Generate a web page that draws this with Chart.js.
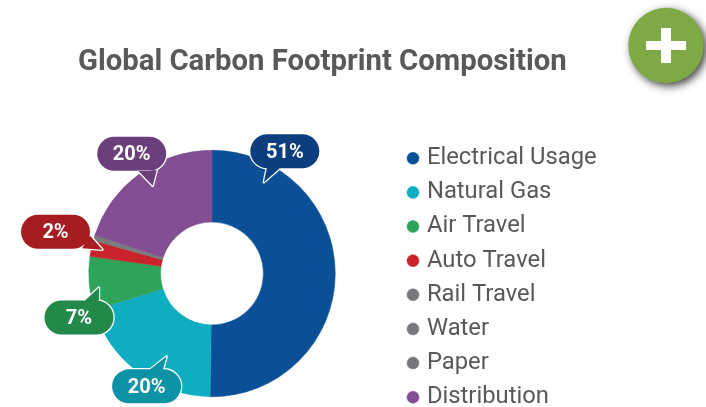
<!DOCTYPE html>
<html>
<head>
<meta charset="utf-8">
<style>html,body{margin:0;padding:0;background:#fff}#wrap{width:706px;height:407px}</style>
<script src="https://cdn.jsdelivr.net/npm/chart.js@4"></script>
</head>
<body>
<div id="wrap"><canvas id="c" width="706" height="407"></canvas></div>
<script>
const titleText = 'Global Carbon Footprint Composition';
const categories = ['Electrical Usage','Natural Gas','Air Travel','Auto Travel','Rail Travel','Water','Paper','Distribution'];
const values = [50.3,20,7,2.1,0.3,0.2,0.2,20];
const sliceColors = ['#0b5096','#10adc1','#2ea35a','#c9242b','#77777b','#77777b','#77777b','#834f92'];
const calloutText = ['51%','20%','7%','2%',null,null,null,'20%'];
const calloutColors = ['#0d3f80','#0e92a5','#23894a','#a61c20',null,null,null,'#6b3f7b'];

// Callout geometry, relative to the centre point of the arc it belongs to.
const calloutShape = {
  0:{pill:[-14.5,-123],tip:[-35.5,-92],base:[[-18,17],[-5,17]]},
  1:{pill:[-13,43],tip:[7,13],base:[[3.5,-17],[16.5,-17]]},
  2:{pill:[-46,37],tip:[-26,7],base:[[5,-16],[20,-17]]},
  3:{pill:[-71,-24],tip:[-24,-6],base:[[34.5,4],[26.5,16.5]]},
  7:{pill:[-29,-49],tip:[-8,-17],base:[[6,16.5],[25,16.5]]}
};

const placement = {
  id:'placement',
  afterLayout(chart){
    Object.assign(chart.chartArea,{left:88.5,right:335.5,top:150,bottom:397,width:247,height:247});
    const t = chart.titleBlock;
    t.left = 78; t.right = 640; t.top = 39.6; t.bottom = 85;
    const l = chart.legend;
    l.maxHeight = 600; l.maxWidth = 300;
    l.fit();
    l.left = 400.66; l.right = 700; l.top = 136; l.bottom = 600;
  }
};

const callouts = {
  id:'callouts',
  afterDatasetsDraw(chart){
    const ctx = chart.ctx, arcs = chart.getDatasetMeta(0).data;
    ctx.save();
    // Plus badge
    ctx.save();
    ctx.shadowColor='rgba(0,0,0,0.75)';ctx.shadowBlur=8;ctx.shadowOffsetX=3;ctx.shadowOffsetY=3;
    ctx.fillStyle='#7fa945';
    ctx.beginPath();ctx.arc(666,45.5,37.7,0,Math.PI*2);ctx.fill();
    ctx.restore();
    ctx.fillStyle='#fff';
    ctx.fillRect(646,41,40,9);
    ctx.fillRect(661,28,10,35);
    // Callouts
    Object.keys(calloutShape).forEach(k=>{
      const s = calloutShape[k], a = arcs[k].getCenterPoint();
      const cx = a.x+s.pill[0], cy = a.y+s.pill[1], w = 69, h = 34;
      const path = new Path2D();
      path.roundRect(cx-w/2,cy-h/2,w,h,h/2);
      path.moveTo(cx+s.base[0][0],cy+s.base[0][1]);
      path.lineTo(a.x+s.tip[0],a.y+s.tip[1]);
      path.lineTo(cx+s.base[1][0],cy+s.base[1][1]);
      path.closePath();
      ctx.strokeStyle='#fff';ctx.lineWidth=2.5;ctx.lineJoin='round';
      ctx.stroke(path);
      ctx.fillStyle=calloutColors[k];
      ctx.fill(path,'nonzero');
      ctx.fillStyle='#fff';
      ctx.font='bold 20px Roboto';
      ctx.textAlign='center';ctx.textBaseline='middle';
      ctx.fillText(calloutText[k],cx,cy+1.5);
    });
    ctx.restore();
  }
};

new Chart(document.getElementById('c'),{
  type:'doughnut',
  data:{labels:categories,datasets:[{data:values,backgroundColor:sliceColors,borderColor:sliceColors,borderWidth:0.5,hoverOffset:0}]},
  options:{
    responsive:false,animation:false,cutout:'41.7%',
    layout:{padding:0},
    plugins:{
      tooltip:{enabled:false},
      title:{display:true,text:titleText,align:'start',color:'#58595b',font:{family:'Roboto',size:29.3,weight:'bold',lineHeight:1.2},padding:{top:5,bottom:5}},
      legend:{position:'right',align:'start',labels:{usePointStyle:true,pointStyle:'circle',boxWidth:4,boxHeight:8.5,padding:10.34,color:'#58595b',font:{family:'Roboto',size:23.8,lineHeight:1}}}
    }
  },
  plugins:[placement,callouts]
});
</script>
</body>
</html>
